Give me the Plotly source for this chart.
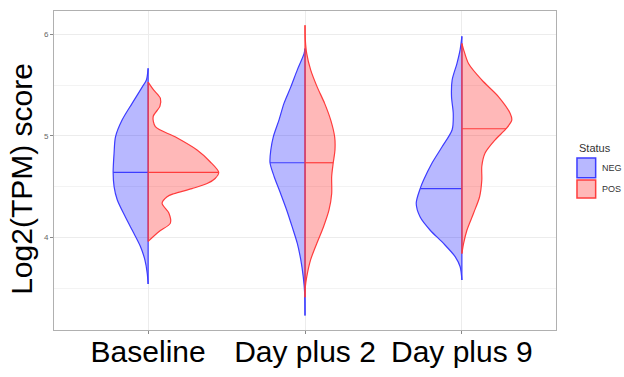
import numpy as np
import plotly.graph_objects as go

categories = ["Baseline", "Day plus 2", "Day plus 9"]
groups = ["NEG", "POS"]

# density outlines: y values and half-widths (x-axis units)
base_neg_y = [5.665, 5.55, 5.48, 5.32, 5.155, 4.99, 4.83, 4.64, 4.50, 4.37, 4.20, 4.04, 3.91, 3.78, 3.65, 3.54]
base_neg_w = [0, .011, .038, .102, .166, .208, .217, .223, .217, .197, .145, .091, .049, .021, .006, 0]
base_pos_y = [5.53, 5.45, 5.37, 5.29, 5.19, 5.09, 4.99, 4.86, 4.745, 4.64, 4.58, 4.53, 4.48, 4.43, 4.40, 4.335, 4.24, 4.14, 4.055, 3.96]
base_pos_w = [0, .036, .078, .075, .032, .046, .172, .312, .395, .450, .427, .376, .280, .164, .121, .089, .132, .142, .068, 0]

d2_neg_y = [5.86, 5.81, 5.65, 5.48, 5.32, 5.155, 4.99, 4.86, 4.735, 4.60, 4.43, 4.27, 4.10, 3.94, 3.78, 3.61, 3.45, 3.23]
d2_neg_w = [0, .006, .049, .091, .134, .166, .202, .218, .223, .197, .155, .117, .081, .049, .027, .011, .002, 0]
d2_pos_y = [6.09, 5.95, 5.81, 5.65, 5.48, 5.32, 5.155, 4.99, 4.86, 4.735, 4.60, 4.43, 4.27, 4.10, 3.94, 3.78, 3.61, 3.51, 3.41]
d2_pos_w = [0, .002, .011, .036, .078, .125, .164, .189, .191, .180, .170, .170, .153, .117, .075, .036, .011, .002, 0]

d9_neg_y = [5.98, 5.85, 5.71, 5.55, 5.385, 5.22, 5.06, 4.89, 4.73, 4.565, 4.48, 4.335, 4.20, 4.07, 3.94, 3.81, 3.71, 3.58]
d9_neg_w = [0, .011, .032, .062, .066, .055, .062, .127, .191, .244, .266, .291, .266, .202, .117, .043, .011, 0]
d9_pos_y = [5.91, 5.85, 5.71, 5.55, 5.385, 5.22, 5.155, 5.07, 4.96, 4.83, 4.70, 4.565, 4.40, 4.24, 4.07, 3.94, 3.84]
d9_pos_w = [0, .011, .043, .127, .234, .308, .318, .282, .212, .148, .127, .127, .113, .075, .032, .011, 0]

neg_medians = [4.64, 4.735, 4.48]
pos_medians = [4.64, 4.735, 5.07]

neg_curves = [(base_neg_y, base_neg_w), (d2_neg_y, d2_neg_w), (d9_neg_y, d9_neg_w)]
pos_curves = [(base_pos_y, base_pos_w), (d2_pos_y, d2_pos_w), (d9_pos_y, d9_pos_w)]

styles = {
    "NEG": dict(line="rgb(60,60,255)", fill="rgba(0,0,255,0.28)", side=-1),
    "POS": dict(line="rgb(255,60,60)", fill="rgba(255,0,0,0.28)", side=1),
}

fig = go.Figure()

for grp, curves, meds in [("NEG", neg_curves, neg_medians), ("POS", pos_curves, pos_medians)]:
    st = styles[grp]
    for i, ((ys, ws), med) in enumerate(zip(curves, meds)):
        pos = i + 1
        ys = np.array(ys)
        ws = np.array(ws)
        xs = pos + st["side"] * ws
        fig.add_trace(go.Scatter(
            x=list(xs), y=list(ys), mode="lines", fill="toself",
            fillcolor=st["fill"], line=dict(color=st["line"], width=1.2, shape="spline", smoothing=0.8),
            showlegend=False, hoverinfo="skip"))
        # center line
        fig.add_trace(go.Scatter(
            x=[pos, pos], y=[ys.max(), ys.min()], mode="lines",
            line=dict(color=st["line"], width=1.2), showlegend=False, hoverinfo="skip"))
        # median line
        order = np.argsort(ys)
        wm = np.interp(med, ys[order], ws[order])
        fig.add_trace(go.Scatter(
            x=[pos, pos + st["side"] * wm], y=[med, med], mode="lines",
            line=dict(color=st["line"], width=1.2), showlegend=False, hoverinfo="skip"))

font_family = "Arial, Liberation Sans, sans-serif"

fig.update_layout(
    width=624, height=377,
    margin=dict(l=54, r=68, t=11, b=47),
    plot_bgcolor="white", paper_bgcolor="white",
    font=dict(family=font_family),
    showlegend=False,
    xaxis=dict(
        range=[0.4, 3.6], tickvals=[1, 2, 3], ticktext=categories,
        tickfont=dict(size=30, color="black", family=font_family),
        ticks="outside", ticklen=3, tickcolor="#888", tickwidth=1,
        ticklabelstandoff=-8,
        showgrid=True, gridcolor="#ececec", gridwidth=1,
        showline=True, mirror=True, linecolor="#b0b0b0", linewidth=1,
        zeroline=False, automargin=False,
    ),
    yaxis=dict(
        range=[3.087, 6.23], tickvals=[4, 5, 6], ticktext=["4", "5", "6"],
        tickfont=dict(size=8, color="#666", family=font_family),
        ticks="outside", ticklen=3, tickcolor="#888", tickwidth=1,
        showgrid=True, gridcolor="#ececec", gridwidth=1,
        minor=dict(tickvals=[3.5, 4.5, 5.5], showgrid=True, gridcolor="#f3f3f3", gridwidth=0.6, ticks=""),
        showline=True, mirror=True, linecolor="#b0b0b0", linewidth=1,
        zeroline=False, automargin=False,
    ),
)

# y-axis title
fig.add_annotation(text="Log2(TPM) score", textangle=-90, xref="paper", yref="paper",
                   x=-0.0637, y=0.474, xanchor="center", yanchor="middle", showarrow=False,
                   font=dict(size=30, color="black", family=font_family))

# manual legend
fig.add_annotation(text="Status", xref="paper", yref="paper", x=1.0418, y=0.5705,
                   xanchor="left", yanchor="middle", showarrow=False,
                   font=dict(size=11, color="#333", family=font_family))
legend_rows = [("NEG", 0.539, 0.477), ("POS", 0.470, 0.414)]
for grp, ytop, ybot in legend_rows:
    st = styles[grp]
    fig.add_shape(type="rect", xref="paper", yref="paper", x0=1.0418, x1=1.079, y0=ybot, y1=ytop,
                  line=dict(color=st["line"], width=1.5), fillcolor=st["fill"])
    fig.add_annotation(text=grp, xref="paper", yref="paper", x=1.088, y=(ytop + ybot) / 2,
                       xanchor="left", yanchor="middle", showarrow=False,
                       font=dict(size=9, color="#333", family=font_family))

fig.write_html("out.html")
